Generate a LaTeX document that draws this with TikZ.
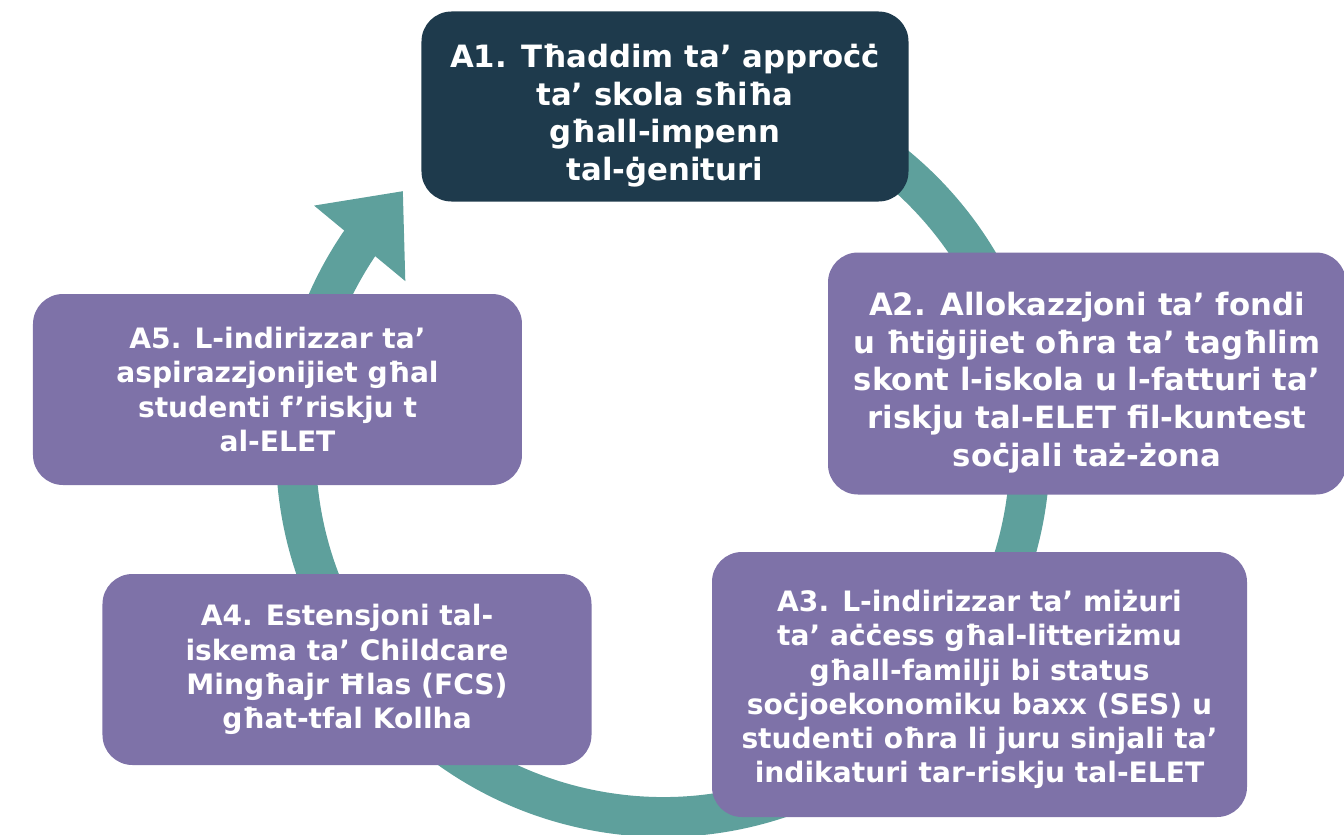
\documentclass[tikz,border=0pt]{standalone}
\usepackage{fontspec}
\setmainfont{DejaVu Sans}
\usetikzlibrary{arrows.meta,bending,positioning}
\definecolor{navy}{RGB}{30,58,76}
\definecolor{lilac}{RGB}{126,114,168}
\definecolor{ringteal}{RGB}{94,160,156}
\pgfdeclarelayer{background}
\pgfsetlayers{background,main}

\begin{document}
\begin{tikzpicture}[
    actbox/.style={rectangle,rounded corners=0.6cm,fill=lilac,text=white,align=center,
      inner sep=0pt,font=\bfseries\fontsize{16}{19.5}\selectfont},
    bigbox/.style={actbox,font=\bfseries\fontsize{17.5}{21.4}\selectfont},
    topbox/.style={bigbox,fill=navy}]
   \useasboundingbox (-13.26,-7.68) rectangle (13.62,9.0);
   \coordinate (mid) at (0,0);
   \node [topbox,minimum width=9.74cm,minimum height=3.8cm] (a1) at (0.04,6.87)
     {\rule{0pt}{23.5pt}A1. Tħaddim ta’ approċċ\\ ta’ skola sħiħa\\ għall-impenn\\ tal-ġenituri};
   \node [bigbox,minimum width=10.36cm,minimum height=4.84cm] (a2) at (8.48,1.53)
     {\rule{0pt}{23.5pt}A2. Allokazzjoni ta’ fondi\\ u ħtiġijiet oħra ta’ tagħlim\\ skont l-iskola u l-fatturi ta’\\ riskju tal-ELET fil-kuntest\\ soċjali taż-żona};
   \node [actbox,minimum width=10.7cm,minimum height=5.3cm] (a3) at (6.33,-4.69)
     {\rule{0pt}{18pt}A3. L-indirizzar ta’ miżuri\\ ta’ aċċess għal-litteriżmu\\ għall-familji bi status\\ soċjoekonomiku baxx (SES) u\\ studenti oħra li juru sinjali ta’\\ indikaturi tar-riskju tal-ELET};
   \node [actbox,minimum width=9.78cm,minimum height=3.82cm] (a4) at (-6.32,-4.39)
     {A4. Estensjoni tal-\\ iskema ta’ Childcare\\ Mingħajr Ħlas (FCS)\\ għat-tfal Kollha};
   \node [actbox,minimum width=9.78cm,minimum height=3.82cm] (a5) at (-7.71,1.21)
     {A5. L-indirizzar ta’\\ aspirazzjonijiet għal\\ studenti f’riskju t\\ al-ELET};
   % the cycle runs behind the boxes
   \begin{pgfonlayer}{background}
     \draw [ringteal,line width=0.8cm,-{Triangle[length=1.36cm,width=2.28cm]}]
       (mid) ++(80:7.34cm) arc [start angle=80,end angle=-224.9,radius=7.34cm];
   \end{pgfonlayer}
\end{tikzpicture}
\end{document}
